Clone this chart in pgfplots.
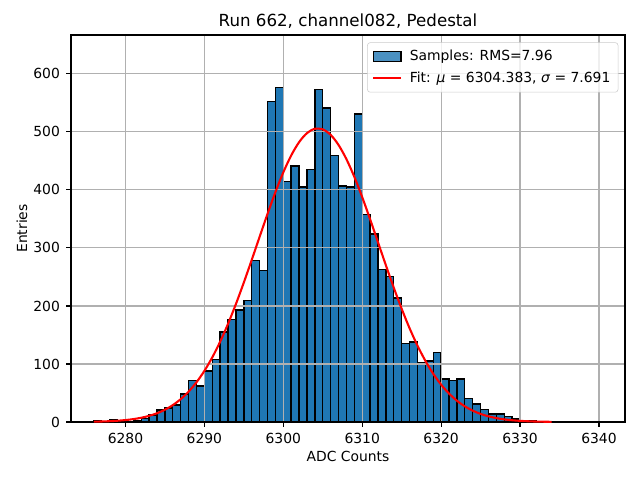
\documentclass[border=0pt]{standalone}
\usepackage{fontspec}
\setmainfont{DejaVu Sans}
\usepackage{pgfplots}
\pgfplotsset{compat=1.18}
\definecolor{c0}{HTML}{1F77B4}
\definecolor{gridc}{HTML}{B0B0B0}
\definecolor{legc}{HTML}{CCCCCC}
\begin{document}
\begin{tikzpicture}
\begin{axis}[
  at={(0,0)}, anchor=south west, scale only axis,
  width=398.88pt, height=278.64pt,
  xmin=6273.1, xmax=6343.3, ymin=0, ymax=667,
  set layers, axis on top,
  xtick={6280,6290,6300,6310,6320,6330,6340},
  ytick={0,100,200,300,400,500,600},
  /pgf/number format/assume math mode=true,
  /pgf/number format/1000 sep={},
  tick label style={font=\fontsize{10}{12}\selectfont},
  grid=major, grid style={gridc, line width=0.8pt},
  axis line style={line width=0.8pt},
  tick style={black, line width=0.8pt},
  tick align=outside, major tick length=3.5pt,
  xtick pos=left, ytick pos=left,
  xticklabel style={anchor=north, yshift=-1pt},
  yticklabel style={anchor=east, xshift=-1pt},
  title={Run 662, channel082, Pedestal},
  title style={at={(0.5,1)}, anchor=base, yshift=0.4pt, font=\fontsize{12}{14}\selectfont},
  xlabel={ADC Counts},
  ylabel={Entries},
  label style={font=\fontsize{10}{12}\selectfont},
  xlabel style={at={(0.5,0)}, anchor=base, yshift=-28.5pt},
  ylabel style={at={(0,0.5)}, anchor=center, yshift=35.3pt},
  legend style={at={(1,1)}, anchor=north east, xshift=-4.8pt, yshift=-5.3pt,
    draw=legc, fill=white, fill opacity=0.8, text opacity=1, rounded corners=2pt,
    font=\fontsize{10}{12}\selectfont, cells={anchor=west},
    inner xsep=3.5pt, inner ysep=3.5pt, row sep=2.5pt, column sep=3.5pt},
]
\addplot[ybar interval, fill=c0, draw=black, line width=1pt,
  legend image code/.code={\draw[fill=c0, draw=black, line width=1pt, sharp corners] (0pt,-3.5pt) rectangle (20pt,3.5pt);}]
coordinates {
(6276,2) (6277,1) (6278,4) (6279,2) (6280,1) (6281,3) (6282,6) (6283,12)
(6284,21) (6285,24) (6286,29) (6287,48) (6288,71) (6289,62) (6290,88) (6291,108)
(6292,155) (6293,177) (6294,193) (6295,209) (6296,278) (6297,261) (6298,552) (6299,577)
(6300,415) (6301,441) (6302,405) (6303,435) (6304,573) (6305,541) (6306,459) (6307,407)
(6308,405) (6309,531) (6310,358) (6311,324) (6312,263) (6313,251) (6314,214) (6315,135)
(6316,138) (6317,102) (6318,105) (6319,120) (6320,74) (6321,71) (6322,74) (6323,41)
(6324,31) (6325,22) (6326,14) (6327,14) (6328,9) (6329,5) (6330,3) (6331,2)
(6332,1) (6333,1) (6334,0)
};
\addlegendentry{Samples: RMS=7.96}
\addplot[red, line width=1.5pt, smooth, on layer=axis foreground,
  legend image code/.code={\draw[red, line width=1.5pt, sharp corners] (0pt,0pt) -- (20pt,0pt);}]
coordinates {
(6276,0.558) (6277,0.894) (6278,1.409) (6279,2.182) (6280,3.322) (6281,4.975)
(6282,7.327) (6283,10.607) (6284,15.10) (6285,21.13) (6286,29.08) (6287,39.34)
(6288,52.34) (6289,68.46) (6290,88.04) (6291,111.35) (6292,138.43) (6293,169.24)
(6294,203.42) (6295,240.42) (6296,279.36) (6297,319.18) (6298,358.57) (6299,396.06)
(6300,430.16) (6301,459.34) (6302,482.28) (6303,497.88) (6304,505.37) (6305,504.38)
(6306,494.94) (6307,477.54) (6308,453.03) (6309,422.57) (6310,387.54) (6311,349.47)
(6312,309.84) (6313,270.12) (6314,231.55) (6315,195.15) (6316,161.71) (6317,131.76)
(6318,105.56) (6319,83.14) (6320,64.38) (6321,49.03) (6322,36.72) (6323,27.03)
(6324,19.57) (6325,13.93) (6326,9.74) (6327,6.70) (6328,4.53) (6329,3.01)
(6330,1.97) (6331,1.27) (6332,0.80) (6333,0.50) (6334,0.30)
};
\addlegendentry{Fit: \textit{μ} = 6304.383, \textit{σ} = 7.691}
\end{axis}
\path (-51.12pt,-41.76pt) rectangle (409.68pt,303.84pt);
\end{tikzpicture}
\end{document}
